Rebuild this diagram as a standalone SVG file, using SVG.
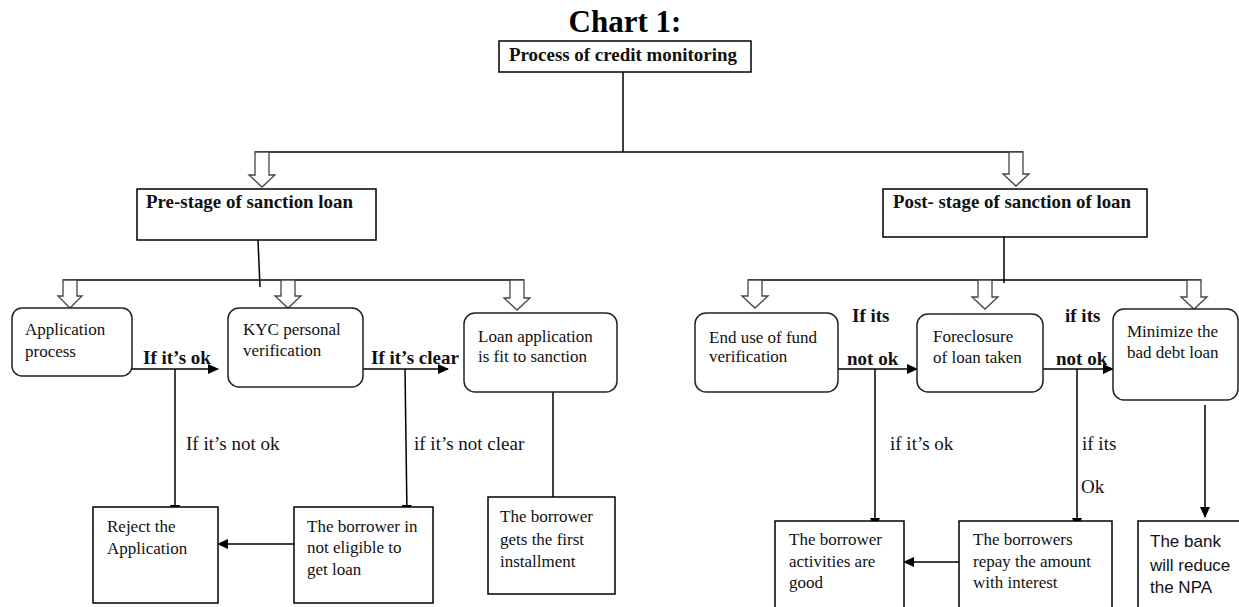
<svg xmlns="http://www.w3.org/2000/svg" width="1239" height="607" viewBox="0 0 1239 607">
<defs>
<marker id="ah" markerUnits="userSpaceOnUse" markerWidth="11" markerHeight="10" refX="10" refY="5" orient="auto">
<path d="M0,0 L11,5 L0,10 Z" fill="#000"/>
</marker>
<style>
.box{fill:#fff;stroke:#000;stroke-width:1.5}
.rbox{fill:#fff;stroke:#222;stroke-width:1.5}
.ln{fill:none;stroke:#000;stroke-width:1.5}
.ar{fill:none;stroke:#000;stroke-width:1.5;marker-end:url(#ah)}
.ha{fill:#fff;stroke:#444;stroke-width:1.3}
.t{font-family:"Liberation Serif","Times New Roman",serif;font-size:17px;fill:#111}
.e{font-family:"Liberation Serif","Times New Roman",serif;font-size:19px;fill:#111}
.b{font-family:"Liberation Serif","Times New Roman",serif;font-size:19px;font-weight:bold;fill:#111}
.s{font-family:"Liberation Sans",Arial,sans-serif;font-size:17px;fill:#111}
</style>
</defs>
<rect width="1239" height="607" fill="#fff"/>
<text x="625" y="32" text-anchor="middle" style="font-family:'Liberation Serif','Times New Roman',serif;font-size:31px;font-weight:bold" fill="#000">Chart 1:</text>

<g id="connectors">
<line class="ln" x1="623" y1="72" x2="623" y2="152"/>
<line class="ln" x1="255" y1="152" x2="1023" y2="152"/>
<line class="ln" x1="258" y1="240" x2="260" y2="287"/>
<line class="ln" x1="63" y1="280" x2="524" y2="280"/>
<line class="ln" x1="1004" y1="237" x2="1004" y2="283"/>
<line class="ln" x1="748" y1="280" x2="1201" y2="280"/>
<path class="ha" d="M255,152 L269,152 L269,175 L275,175 L262,187 L249,175 L255,175 Z"/>
<path class="ha" d="M1009,152 L1023,152 L1023,174 L1029,174 L1016,186 L1003,174 L1009,174 Z"/>
<path class="ha" d="M63,280 L77,280 L77,296 L82,296 L70,308 L58,296 L63,296 Z"/>
<path class="ha" d="M281,280 L295,280 L295,296 L301,296 L288,308 L275,296 L281,296 Z"/>
<path class="ha" d="M510,280 L524,280 L524,298 L530,298 L517,310 L504,298 L510,298 Z"/>
<path class="ha" d="M748,280 L762,280 L762,296 L768,296 L755,308 L742,296 L748,296 Z"/>
<path class="ha" d="M978,280 L992,280 L992,297 L998,297 L985,309 L972,297 L978,297 Z"/>
<path class="ha" d="M1187,280 L1201,280 L1201,297 L1207,297 L1194,309 L1181,297 L1187,297 Z"/>
<line class="ar" x1="132" y1="369" x2="218" y2="369"/>
<line class="ar" x1="175" y1="369" x2="175" y2="515"/>
<line class="ar" x1="363" y1="369" x2="448" y2="369"/>
<line class="ar" x1="405" y1="369" x2="407" y2="515"/>
<line class="ar" x1="294" y1="544" x2="218" y2="544"/>
<line class="ln" x1="553" y1="392" x2="553" y2="497"/>
<line class="ar" x1="838" y1="369" x2="917" y2="369"/>
<line class="ar" x1="875" y1="369" x2="875" y2="528"/>
<line class="ar" x1="1043" y1="369" x2="1113" y2="369"/>
<line class="ar" x1="1077" y1="369" x2="1077" y2="528"/>
<line class="ar" x1="959" y1="562" x2="904" y2="562"/>
<line class="ar" x1="1205" y1="405" x2="1205" y2="517"/>
<text class="b" x="143" y="364">If it’s ok</text>
<text class="e" x="186" y="450">If it’s not ok</text>
<text class="b" x="371" y="364">If it’s clear</text>
<text class="e" x="414" y="450">if it’s not clear</text>
<text class="b" x="852" y="322">If its</text>
<text class="b" x="847" y="365">not ok</text>
<text class="e" x="890" y="450">if it’s ok</text>
<text class="b" x="1065" y="322">if its</text>
<text class="b" x="1056" y="365">not ok</text>
<text class="e" x="1082" y="450">if its</text>
<text class="e" x="1081" y="493">Ok</text>
</g>

<g id="n-top">
<rect class="box" x="499" y="41" width="252" height="31"/>
<text class="b" x="509" y="61" textLength="228" lengthAdjust="spacingAndGlyphs">Process of credit monitoring</text>
</g>
<g id="n-pre">
<rect class="box" x="137" y="189" width="239" height="51"/>
<text class="b" x="146" y="208" textLength="207" lengthAdjust="spacingAndGlyphs">Pre-stage of sanction loan</text>
</g>
<g id="n-post">
<rect class="box" x="883" y="189" width="264" height="48"/>
<text class="b" x="893" y="208" textLength="238" lengthAdjust="spacingAndGlyphs">Post- stage of sanction of loan</text>
</g>
<g id="n-app">
<rect class="rbox" x="12" y="308" width="120" height="68" rx="10"/>
<text class="t" x="25" y="335">Application</text>
<text class="t" x="25" y="357">process</text>
</g>
<g id="n-kyc">
<rect class="rbox" x="228" y="308" width="135" height="79" rx="11"/>
<text class="t" x="243" y="335">KYC personal</text>
<text class="t" x="243" y="356">verification</text>
</g>
<g id="n-loan">
<rect class="rbox" x="464" y="313" width="153" height="79" rx="11"/>
<text class="t" x="478" y="342">Loan application</text>
<text class="t" x="478" y="362">is fit to sanction</text>
</g>
<g id="n-enduse">
<rect class="rbox" x="695" y="313" width="143" height="79" rx="11"/>
<text class="t" x="709" y="343">End use of fund</text>
<text class="t" x="709" y="362">verification</text>
</g>
<g id="n-foreclosure">
<rect class="rbox" x="917" y="314" width="126" height="78" rx="11"/>
<text class="t" x="933" y="342">Foreclosure</text>
<text class="t" x="933" y="363">of loan taken</text>
</g>
<g id="n-minimize">
<rect class="rbox" x="1113" y="309" width="125" height="91" rx="11"/>
<text class="t" x="1127" y="337">Minimize the</text>
<text class="t" x="1127" y="358">bad debt loan</text>
</g>
<g id="n-reject">
<rect class="box" x="93" y="507" width="125" height="96"/>
<text class="t" x="107" y="532">Reject the</text>
<text class="t" x="107" y="554">Application</text>
</g>
<g id="n-noteligible">
<rect class="box" x="294" y="507" width="139" height="96"/>
<text class="t" x="307" y="532">The borrower in</text>
<text class="t" x="307" y="553">not eligible to</text>
<text class="t" x="307" y="575">get loan</text>
</g>
<g id="n-installment">
<rect class="box" x="488" y="497" width="127" height="97"/>
<text class="t" x="500" y="522">The borrower</text>
<text class="t" x="500" y="545">gets the first</text>
<text class="t" x="500" y="567">installment</text>
</g>
<g id="n-good">
<rect class="box" x="775" y="521" width="129" height="95"/>
<text class="t" x="789" y="545">The borrower</text>
<text class="t" x="789" y="567">activities are</text>
<text class="t" x="789" y="588">good</text>
</g>
<g id="n-repay">
<rect class="box" x="959" y="521" width="153" height="95"/>
<text class="t" x="973" y="545">The borrowers</text>
<text class="t" x="973" y="567">repay the amount</text>
<text class="t" x="973" y="588">with interest</text>
</g>
<g id="n-bank">
<rect class="box" x="1138" y="521" width="110" height="95"/>
<text class="s" x="1150" y="547">The bank</text>
<text class="s" x="1150" y="571">will reduce</text>
<text class="s" x="1150" y="593">the NPA</text>
</g>
</svg>
